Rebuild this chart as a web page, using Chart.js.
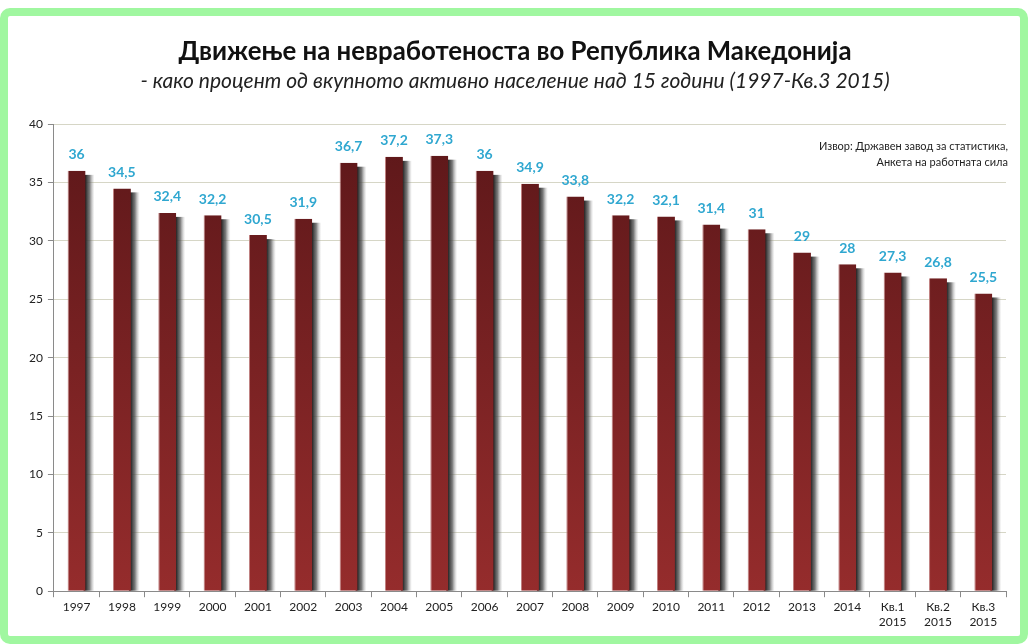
<!DOCTYPE html>
<html>
<head>
<meta charset="utf-8">
<script src="https://cdn.jsdelivr.net/npm/chart.js@4.4.0/dist/chart.umd.min.js"></script>
<style>
  html, body { margin: 0; padding: 0; background: #fff; }
  #frame {
    position: absolute; left: 0; top: 8px;
    width: 1012px; height: 620px;
    border: 8px solid #a0f7a0; border-radius: 10px;
    background: #fff;
  }
  #wrap { position: absolute; left: 0; top: 0; width: 1028px; height: 644px; }
</style>
</head>
<body>
<div id="frame"></div>
<div id="wrap"><canvas id="unempChart"></canvas></div>
<script>
// data
const years = ['1997', '1998', '1999', '2000', '2001', '2002', '2003', '2004', '2005', '2006',
  '2007', '2008', '2009', '2010', '2011', '2012', '2013', '2014',
  ['Кв.1', '2015'], ['Кв.2', '2015'], ['Кв.3', '2015']];
const rates = [36, 34.5, 32.4, 32.2, 30.5, 31.9, 36.7, 37.2, 37.3, 36,
  34.9, 33.8, 32.2, 32.1, 31.4, 31, 29, 28, 27.3, 26.8, 25.5];
const yTicks = [0, 5, 10, 15, 20, 25, 30, 35, 40];
const sourceLines = ['Извор: Државен завод за статистика,', 'Анкета на работната сила'];

const FONT = 'Lato, "Open Sans", sans-serif';

// gray shadow on the right side of each bar
const barShadow = {
  id: 'barShadow',
  beforeDatasetsDraw(chart) {
    const ctx = chart.ctx;
    const meta = chart.getDatasetMeta(0);
    ctx.save();
    meta.data.forEach(bar => {
      const right = bar.x + bar.width / 2;
      const g = ctx.createLinearGradient(right, 0, right + 9, 0);
      g.addColorStop(0, 'rgba(40, 40, 40, 1)');
      g.addColorStop(0.45, 'rgba(80, 80, 80, 0.75)');
      g.addColorStop(1, 'rgba(170, 170, 170, 0)');
      ctx.fillStyle = g;
      ctx.fillRect(right - 2, bar.y + 4, 11, bar.base - bar.y - 4);
    });
    ctx.restore();
  }
};

// value labels above bars
const valueLabels = {
  id: 'valueLabels',
  afterDatasetsDraw(chart) {
    const ctx = chart.ctx;
    const meta = chart.getDatasetMeta(0);
    ctx.save();
    ctx.font = 'bold 14px ' + FONT;
    ctx.fillStyle = '#2fa7d0';
    ctx.textAlign = 'center';
    ctx.textBaseline = 'middle';
    meta.data.forEach((bar, i) => {
      const txt = String(rates[i]).replace('.', ',');
      ctx.fillText(txt, bar.x, bar.y - 16);
    });
    ctx.restore();
  }
};

// source note in upper right corner
const sourceNote = {
  id: 'sourceNote',
  afterDraw(chart) {
    const ctx = chart.ctx;
    const area = chart.chartArea;
    ctx.save();
    ctx.font = '11px ' + FONT;
    ctx.fillStyle = '#222';
    ctx.textAlign = 'right';
    ctx.textBaseline = 'middle';
    sourceLines.forEach((line, i) => {
      ctx.fillText(line, area.right + 2, area.top + 22 + i * 16);
    });
    ctx.restore();
  }
};

function barFill(context) {
  const area = context.chart.chartArea;
  if (!area) return '#7a2323';
  const g = context.chart.ctx.createLinearGradient(0, area.top, 0, area.bottom);
  g.addColorStop(0, '#5c1719');
  g.addColorStop(1, '#952c2c');
  return g;
}

const chart = new Chart(document.getElementById('unempChart'), {
  type: 'bar',
  data: {
    labels: years,
    datasets: [{
      data: rates,
      backgroundColor: barFill,
      borderColor: '#c08080',
      borderWidth: { left: 1, right: 0, top: 0, bottom: 0 },
      barPercentage: 0.396,
      categoryPercentage: 1.0
    }]
  },
  options: {
    responsive: true,
    maintainAspectRatio: false,
    animation: false,
    layout: { padding: { top: 20, left: 24, right: 22, bottom: 12 } },
    plugins: {
      legend: { display: false },
      tooltip: { enabled: false },
      title: {
        display: true,
        text: 'Движење на невработеноста во Република Македонија',
        font: { family: FONT, size: 25.8, weight: 'bold' },
        color: '#111',
        padding: { top: 16, bottom: 0 }
      },
      subtitle: {
        display: true,
        text: '- како процент од вкупното активно население над 15 години (1997-Кв.3 2015)',
        font: { family: FONT, size: 21, style: 'italic' },
        color: '#222',
        padding: { top: 2, bottom: 30 }
      }
    },
    scales: {
      x: {
        grid: {
          offset: true,
          drawOnChartArea: false,
          drawTicks: true,
          tickLength: 6,
          color: '#8a8a8a'
        },
        border: { color: '#8a8a8a' },
        ticks: {
          font: { family: FONT, size: 12 },
          color: '#222',
          maxRotation: 0,
          autoSkip: false,
          padding: 3
        }
      },
      y: {
        min: 0,
        max: 40,
        afterBuildTicks(axis) {
          axis.ticks = yTicks.map(v => ({ value: v }));
        },
        grid: {
          color: '#d6d6c6',
          tickLength: 6,
          tickColor: '#8a8a8a'
        },
        border: { color: '#8a8a8a' },
        ticks: {
          font: { family: FONT, size: 12 },
          color: '#222',
          padding: 5
        }
      }
    }
  },
  plugins: [barShadow, valueLabels, sourceNote]
});
</script>
</body>
</html>
